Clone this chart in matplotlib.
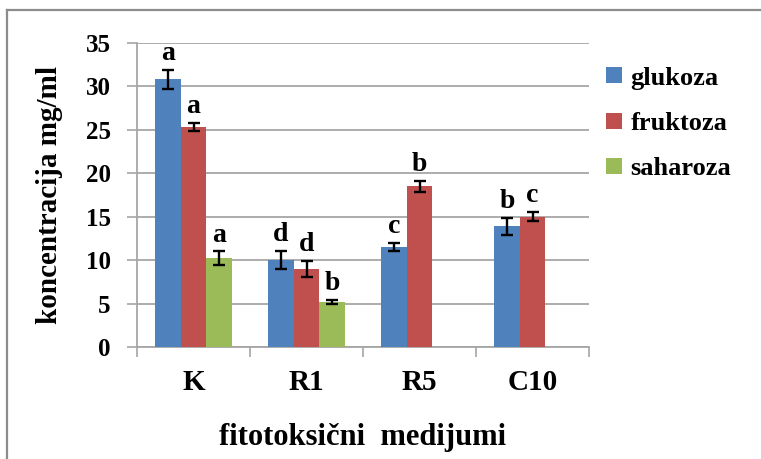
import matplotlib
matplotlib.use("Agg")
import matplotlib.pyplot as plt
import numpy as np
from matplotlib.lines import Line2D

categories = ["K", "R1", "R5", "C10"]
series_names = ["glukoza", "fruktoza", "saharoza"]
glukoza = [30.8, 10.0, 11.5, 13.9]
fruktoza = [25.3, 9.0, 18.5, 15.0]
saharoza = [10.2, 5.2, np.nan, np.nan]
glukoza_err = [1.05, 1.05, 0.5, 0.95]
fruktoza_err = [0.45, 0.9, 0.65, 0.5]
saharoza_err = [0.8, 0.2, np.nan, np.nan]
glukoza_lbl = ["a", "d", "c", "b"]
fruktoza_lbl = ["a", "d", "b", "c"]
saharoza_lbl = ["a", "b", "", ""]
yticks = [0, 5, 10, 15, 20, 25, 30, 35]

colors = ["#4F81BD", "#C0504D", "#9BBB59"]
FONT = "Liberation Serif"

W, H = 761, 459
fig = plt.figure(figsize=(W / 100, H / 100), dpi=100)
fig.patch.set_facecolor("white")

# axes position in pixels: x 137..589, y 43..347 (from top)
ax = fig.add_axes([137 / W, (H - 347) / H, (589 - 137) / W, (347 - 43) / H])

x = np.arange(len(categories))
bw = 0.226
vals = [glukoza, fruktoza, saharoza]
errs = [glukoza_err, fruktoza_err, saharoza_err]
lbls = [glukoza_lbl, fruktoza_lbl, saharoza_lbl]

for i, (v, e, l, c, n) in enumerate(zip(vals, errs, lbls, colors, series_names)):
    pos = x + (i - 1) * bw
    ax.bar(pos, v, width=bw, color=c, label=n, zorder=3, edgecolor="none")
    ax.errorbar(pos, v, yerr=e, fmt="none", ecolor="black", elinewidth=1.7,
                capsize=4, capthick=1.7, zorder=4)
    for p, vv, ee, ll in zip(pos, v, e, l):
        if ll and not np.isnan(vv):
            ax.text(p, vv + ee + 0.45, ll, ha="center", va="bottom",
                    fontsize=20, fontweight="bold", family=FONT, zorder=5)

ax.set_xlim(-0.5, len(categories) - 0.5)
ax.set_ylim(0, 35)
ax.set_yticks(yticks)
ax.set_yticklabels([str(t) for t in yticks], fontsize=18, fontweight="bold", family=FONT)
ax.grid(axis="y", color="#A6A6A6", linewidth=1.3, zorder=0)
ax.set_axisbelow(True)

# category boundaries as major ticks, labels at centers on minor ticks
ax.set_xticks(np.arange(-0.5, len(categories), 1.0))
ax.set_xticklabels([])
ax.set_xticks(x, minor=True)
ax.set_xticklabels(categories, minor=True, fontsize=21, fontweight="bold", family=FONT)
ax.tick_params(axis="x", which="minor", length=0, pad=16)
ax.tick_params(axis="x", which="major", length=7, width=1.2, color="#A6A6A6", direction="out")
ax.tick_params(axis="y", length=7, width=1.2, color="#A6A6A6", direction="out", pad=12)

for s in ["top", "right"]:
    ax.spines[s].set_visible(False)
for s in ["left", "bottom"]:
    ax.spines[s].set_color("#A6A6A6")
    ax.spines[s].set_linewidth(1.3)

ax.set_xlabel("fitotoksični  medijumi", fontsize=22, fontweight="bold", family=FONT, labelpad=19)
ax.set_ylabel("koncentracija mg/ml", fontsize=21, fontweight="bold", family=FONT, labelpad=16)

leg = fig.legend(loc="upper left", bbox_to_anchor=(595 / W, 1 - 56 / H),
                 frameon=False, prop={"family": FONT, "weight": "bold", "size": 19},
                 handlelength=0.64, handleheight=0.57, handletextpad=0.3,
                 labelspacing=0.85, borderaxespad=0)

# partial outer frame (top and left)
fig.add_artist(Line2D([7 / W, 7 / W], [0, 1 - 10 / H], transform=fig.transFigure,
                      color="#8C8C8C", linewidth=1.6))
fig.add_artist(Line2D([7 / W, 1], [1 - 10 / H, 1 - 10 / H], transform=fig.transFigure,
                      color="#8C8C8C", linewidth=1.6))

fig.savefig("out.png", dpi=100, facecolor="white")
